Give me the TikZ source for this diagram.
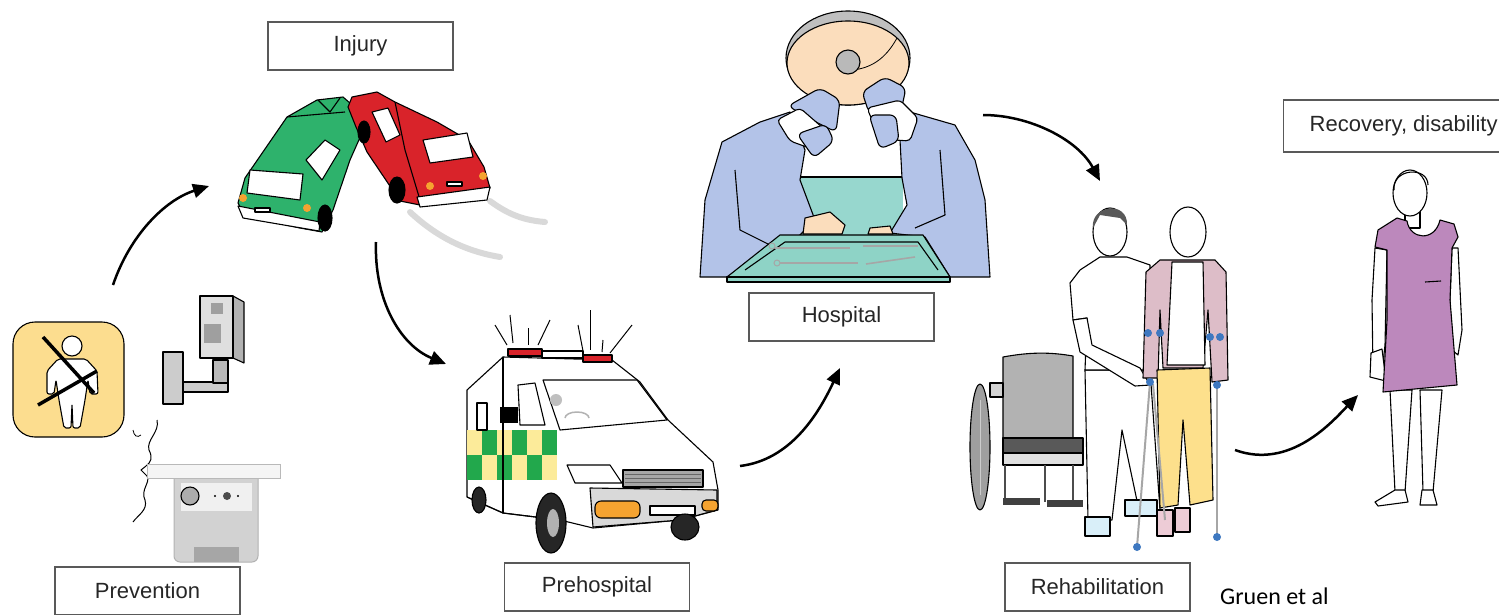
\documentclass[tikz,border=0pt]{standalone}
\usepackage{fontspec}
\setmainfont{Liberation Sans}
\newfontfamily\calibri{Carlito}
\usetikzlibrary{positioning, arrows.meta}
\definecolor{signyellow}{HTML}{FCDD8F}
\definecolor{carGreen}{HTML}{2EB26C}
\definecolor{carRed}{HTML}{D9232A}
\definecolor{lampOrange}{HTML}{F5A330}
\definecolor{ambGreen}{HTML}{22A84C}
\definecolor{ambYellow}{HTML}{FCEB9A}
\definecolor{peach}{HTML}{FBDDBC}
\definecolor{gown}{HTML}{B3C3E8}
\definecolor{drape}{HTML}{97D7CE}
\definecolor{trayGreen}{HTML}{8ED3C6}
\definecolor{cardigan}{HTML}{DDBDC8}
\definecolor{trousers}{HTML}{FDE08C}
\definecolor{shoePink}{HTML}{EDCCD6}
\definecolor{shoeBlue}{HTML}{D9EFF9}
\definecolor{crutchBlue}{HTML}{3E78C0}
\definecolor{dress}{HTML}{BC88BC}

\begin{document}
\begin{tikzpicture}[x=1pt, y=-1pt,
  stagebox/.style={draw=black!65, line width=1.3pt, minimum width=185pt, minimum height=48pt, inner sep=0pt, text=black!85, font=\fontsize{22}{26}\selectfont},
  flow/.style={line width=2.5pt, -{Triangle[length=16pt,width=14pt]}},
  ink/.style={draw=black, line width=1.1pt, line join=round},
  skid/.style={line width=6pt, gray!30, line cap=round}]

\useasboundingbox (0,0) rectangle (1499,614);
\clip (0,0) rectangle (1499,614);

% Prevention: seat belt sign
\draw[ink, fill=signyellow, rounded corners=22pt] (13,322) rectangle (124,437);
\draw[ink, fill=white] (72,346) circle (10);
\draw[ink, fill=white, rounded corners=2pt] (58,359) -- (86,359) -- (97,371) -- (98,394) -- (90,394) -- (88,380) -- (85,400) -- (80,428) -- (73,428) -- (72,404) -- (71,428) -- (64,428) -- (59,400) -- (56,380) -- (54,394) -- (47,394) -- (47,371) -- cycle;
\draw[line width=3.5pt] (43,337) -- (94,393);
\draw[line width=3.5pt] (38,405) -- (97,371);

% speed camera
\draw[ink, fill=gray!40] (163,352) rectangle (183,404);
\draw[ink, fill=gray!40] (183,382) rectangle (228,392);
\draw[ink, fill=gray!55] (213,360) rectangle (228,383);
\draw[ink, fill=gray!60] (233,296) -- (244,302) -- (244,363) -- (233,358) -- cycle;
\draw[ink, fill=gray!25] (200,296) rectangle (233,358);
\fill[gray!75] (211,303) rectangle (223,314);
\fill[gray!75] (204,324) rectangle (221,343);

% breath tester
\draw[line width=1pt] (157,420) .. controls (160,432) and (146,440) .. (149,450) .. controls (153,458) and (151,462) .. (146,466) -- (141,470) -- (147,476) .. controls (151,482) and (140,490) .. (145,500) .. controls (148,510) and (138,515) .. (133,522);
\draw[line width=0.8pt] (133,430) .. controls (134,436) and (137,438) .. (141,435);
\draw[gray!60, fill=gray!35, line width=1pt, rounded corners=6pt] (174,468) -- (174,562) -- (258,562) -- (258,468) -- cycle;
\draw[gray!55, fill=gray!8, line width=1pt] (147,464) rectangle (280,478);
\fill[gray!12] (181,483) rectangle (252,511);
\draw[ink, fill=gray!65] (190,496) circle (9);
\fill[black!70] (227,496) circle (4);
\fill (215,496) circle (1.2);
\fill (238,496) circle (1.2);
\fill[gray!70] (194,547) rectangle (239,562);

% Injury: two cars
\draw[skid] (410,212) .. controls (440,240) and (470,252) .. (500,257);
\draw[skid] (490,201) .. controls (505,212) and (520,220) .. (545,222);
\draw[ink, fill=carGreen] (238,203) -- (245,178) -- (287,117) -- (317,100) -- (343,97) -- (358,110) -- (362,133) -- (350,160) -- (333,210) -- (322,232) -- (300,228) -- (245,216) -- cycle;
\draw[ink, fill=white] (250,170) -- (303,174) -- (300,200) -- (247,193) -- cycle;
\draw[ink, fill=white] (306,160) -- (325,140) -- (340,150) -- (322,180) -- cycle;
\draw[ink, fill=white] (238,206) -- (320,222) -- (319,231) -- (243,218) -- cycle;
\draw[ink] (287,117) -- (345,112);
\draw[ink] (318,100) -- (330,112) -- (340,98);
\fill[lampOrange] (243,198) circle (4);
\fill[lampOrange] (307,208) circle (4);
\draw[ink, fill=white] (255,208) rectangle (270,212);
\draw[ink, fill=black] (325,218) ellipse (7 and 13);
\draw[ink, fill=carRed] (348,107) -- (352,97) -- (377,92) -- (395,102) -- (437,122) -- (468,140) -- (484,167) -- (490,188) -- (480,198) -- (420,205) -- (400,201) -- (367,152) -- (356,127) -- cycle;
\draw[ink, fill=white] (423,140) -- (467,133) -- (473,157) -- (430,163) -- cycle;
\draw[ink, fill=white] (372,112) -- (388,108) -- (400,135) -- (386,142) -- cycle;
\draw[ink] (395,102) -- (405,150) -- (420,200);
\draw[ink, fill=white] (417,197) -- (490,187) -- (487,200) -- (420,207) -- cycle;
\fill[lampOrange] (430,186) circle (4);
\fill[lampOrange] (483,176) circle (4);
\draw[ink, fill=white] (447,182) rectangle (462,186);
\draw[ink, fill=black] (397,190) ellipse (8 and 13);
\draw[ink, fill=black] (364,132) ellipse (6 and 11);

% Prehospital: ambulance
\draw[ink, fill=white] (503,357) -- (612,360) -- (640,382) -- (668,420) -- (713,462) -- (718,490) -- (718,510) -- (680,520) -- (593,528) -- (560,520) -- (503,513) -- cycle;
\draw[ink, fill=white] (467,390) -- (503,357) -- (503,513) -- (467,497) -- cycle;
\foreach \i in {0,...,5}{
  \foreach \j in {0,1}{
    \pgfmathtruncatemacro\odd{mod(\i+\j,2)}
    \ifnum\odd=0 \def\cc{ambYellow}\else\def\cc{ambGreen}\fi
    \fill[\cc] ({467+15*\i},{430+25*\j}) rectangle ++(15,25);
  }
}
\draw[ink] (467,497) -- (503,513) -- (560,520);
\draw[ink] (503,357) -- (503,513);
\draw[ink, fill=white] (543,380) -- (637,380) -- (667,420) -- (560,430) -- cycle;
\fill[gray!50] (556,400) circle (6);
\draw[gray!60, line width=1.5pt] (565,418) arc[start angle=180, end angle=360, x radius=12, y radius=6];
\draw[ink, fill=white] (518,385) -- (535,383) -- (545,425) -- (520,425) -- cycle;
\draw[ink, fill=white] (477,403) rectangle (487,430);
\fill[black] (500,407) rectangle (518,423);
\draw[ink, fill=white] (567,465) -- (610,465) -- (622,483) -- (575,483) -- cycle;
\draw[ink, fill=gray!70] (623,470) rectangle (703,487);
\foreach \k in {474,478,482}{
  \draw[black!60, line width=0.8pt] (625,\k) -- (701,\k);
}
\draw[ink, fill=gray!30] (590,488) -- (717,490) -- (717,510) -- (680,520) -- (593,527) -- cycle;
\draw[ink, fill=lampOrange, rounded corners=6pt] (595,501) rectangle (640,518);
\draw[ink, fill=lampOrange, rounded corners=4pt] (702,500) rectangle (718,511);
\draw[ink, fill=white] (650,506) rectangle (695,515);
\draw[ink, fill=black!85] (479,500) ellipse (7 and 13);
\draw[ink, fill=black!85] (685,527) ellipse (14 and 13);
\draw[ink, fill=black!85] (551,523) ellipse (15 and 30);
\fill[gray!60] (553,523) ellipse (6 and 14);
\draw[ink, fill=carRed] (508,349) rectangle (542,356);
\draw[ink, fill=white] (542,351) rectangle (583,358);
\draw[ink, fill=carRed] (583,355) rectangle (612,362);
\foreach \ax/\ay/\bx/\by in {507/345/495/325, 513/343/510/315, 528/345/528/328, 538/345/550/320, 583/351/578/325, 590/350/590/310, 602/352/603/340, 610/353/632/325}{
  \draw[line width=1pt] (\ax,\ay) -- (\bx,\by);
}

% Hospital: surgeons at the table
\draw[ink, fill=gray!50] (848,58) ellipse (62 and 47);
\draw[ink, fill=peach] (848,63) ellipse (61 and 42);
\draw[line width=0.8pt] (897,38) .. controls (885,60) and (870,68) .. (853,70);
\draw[ink, fill=gray!55] (848,62) circle (12);
\fill[drape] (797,177) rectangle (903,235);
\draw[ink] (797,177) -- (903,177);
\draw[ink, fill=gown] (700,277) -- (705,200) -- (722,142) -- (760,122) -- (790,112) -- (805,150) -- (800,180) -- (815,220) -- (800,235) -- (760,255) -- (727,277) -- cycle;
\draw[ink] (735,170) -- (740,230) -- (780,250);
\draw[ink, fill=gown] (900,140) -- (910,112) -- (955,125) -- (975,160) -- (985,200) -- (990,277) -- (950,277) -- (925,237) -- (890,233) -- (907,205) -- (902,178) -- cycle;
\draw[ink] (940,150) -- (945,215) -- (915,228);
\draw[ink, fill=gown, rounded corners=6pt] (788,106) -- (820,88) -- (840,100) -- (836,132) -- (812,120) -- cycle;
\draw[ink, fill=white, rounded corners=4pt] (777,120) -- (800,108) -- (823,128) -- (815,150) -- (790,141) -- cycle;
\draw[ink, fill=gown, rounded corners=6pt] (797,134) -- (826,124) -- (834,141) -- (814,158) -- cycle;
\draw[ink, fill=gown, rounded corners=6pt] (862,92) -- (885,77) -- (906,88) -- (901,111) -- (869,113) -- cycle;
\draw[ink, fill=white, rounded corners=4pt] (867,108) -- (900,100) -- (918,118) -- (910,141) -- (880,139) -- cycle;
\draw[ink, fill=gown, rounded corners=6pt] (869,115) -- (896,115) -- (899,141) -- (880,149) -- cycle;
\draw[ink, fill=peach] (805,218) -- (830,212) -- (845,225) -- (842,234) -- (803,234) -- cycle;
\draw[ink, fill=peach] (870,228) -- (890,226) -- (893,234) -- (868,234) -- cycle;
\draw[ink, fill=trayGreen] (727,277) -- (780,235) -- (923,235) -- (950,277) -- cycle;
\draw[ink, fill=trayGreen] (727,277) rectangle (950,282);
\draw[ink] (745,270) -- (785,242) -- (918,242) -- (938,270);
\foreach \ax/\ay/\bx/\by in {775/248/850/248, 863/246/918/246, 780/263/858/263, 866/264/915/257}{
  \draw[gray!70, line width=1.6pt] (\ax,\ay) -- (\bx,\by);
}
\draw[gray!70, line width=1pt] (772,246) circle (3);
\draw[gray!70, line width=1pt] (777,263) circle (3);

% Rehabilitation: wheelchair and two figures
\draw[ink, fill=gray!75] (980,447) ellipse (10 and 63);
\draw[gray!40, line width=1pt] (980,400) -- (980,495);
\draw[ink, fill=gray!60] (1003,440) -- (1003,357) .. controls (1030,352) and (1050,352) .. (1073,356) -- (1073,440) -- cycle;
\draw[ink, fill=gray!35] (990,383) rectangle (1003,397);
\draw[ink, fill=black!65] (1003,438) rectangle (1083,453);
\draw[ink, fill=gray!25] (1003,453) rectangle (1083,465);
\foreach \lx in {1005,1045,1073}{
  \draw[line width=2pt, black!70] (\lx,465) -- (\lx,502);
}
\fill[black!75] (1003,498) rectangle (1040,505);
\fill[black!75] (1047,500) rectangle (1083,507);
\draw[ink, fill=white] (1085,370) -- (1150,370) -- (1160,510) -- (1140,515) -- (1122,430) -- (1112,520) -- (1088,520) -- cycle;
\draw[ink, fill=shoeBlue] (1085,517) rectangle (1110,536);
\draw[ink, fill=shoeBlue] (1125,500) rectangle (1157,516);
\draw[ink, fill=white] (1100,257) -- (1127,257) -- (1150,265) -- (1150,370) -- (1085,370) -- (1087,318) -- (1073,320) -- (1070,283) -- (1080,270) -- cycle;
\draw[ink, fill=white] (1073,320) -- (1087,318) -- (1092,345) -- (1140,368) -- (1150,385) -- (1135,386) -- (1080,352) -- cycle;
\draw[ink, fill=white] (1110,232) ellipse (17 and 24);
\fill[black!65] (1093,228) .. controls (1090,205) and (1128,200) .. (1127,225) -- (1120,218) -- (1100,215) -- cycle;
\draw[ink, fill=cardigan] (1160,260) -- (1215,260) -- (1226,272) -- (1228,380) -- (1212,382) -- (1208,310) -- (1203,368) -- (1163,368) -- (1160,310) -- (1158,378) -- (1143,378) -- (1146,272) -- cycle;
\draw[ink, fill=white] (1172,262) -- (1203,262) -- (1205,365) -- (1167,365) -- cycle;
\draw[ink, fill=trousers] (1157,370) -- (1210,368) -- (1213,500) -- (1190,505) -- (1183,420) -- (1178,505) -- (1160,508) -- cycle;
\draw[ink, fill=shoePink] (1157,510) rectangle (1173,536);
\draw[ink, fill=shoePink] (1175,508) rectangle (1190,532);
\draw[ink, fill=white] (1188,232) ellipse (18 and 25);
\draw[gray!70, line width=2pt] (1150,382) -- (1137,547);
\draw[gray!70, line width=2pt] (1153,384) -- (1165,520);
\draw[gray!70, line width=2pt] (1217,383) -- (1217,537);
\foreach \bx/\by in {1148/333, 1160/333, 1210/337, 1220/337, 1150/382, 1217/385, 1137/547, 1217/537}{
  \fill[crutchBlue] (\bx,\by) circle (4);
}

% Recovery: woman standing
\draw[ink, fill=white] (1375,248) -- (1387,250) -- (1385,345) -- (1382,372) -- (1373,372) -- (1372,300) -- cycle;
\draw[ink, fill=white] (1452,248) -- (1458,248) -- (1462,330) -- (1458,355) -- (1452,350) -- (1450,300) -- cycle;
\draw[ink, fill=white] (1371,353) -- (1382,349) -- (1386,381) -- (1370,377) -- cycle;
\draw[ink, fill=white] (1390,390) -- (1412,390) -- (1405,492) -- (1395,492) -- cycle;
\draw[ink, fill=white] (1420,390) -- (1442,390) -- (1433,492) -- (1423,492) -- cycle;
\draw[ink, fill=white] (1395,490) -- (1405,490) -- (1408,502) -- (1378,506) -- (1375,502) -- cycle;
\draw[ink, fill=white] (1422,490) -- (1433,490) -- (1437,505) -- (1420,505) -- cycle;
\draw[ink, fill=white] (1405,210) rectangle (1420,228);
\draw[ink, fill=dress] (1375,247) -- (1378,230) -- (1397,218) -- (1407,221) .. controls (1410,240) and (1435,242) .. (1440,220) -- (1454,224) -- (1458,237) -- (1452,248) -- (1450,300) -- (1457,385) -- (1383,392) -- (1387,320) -- (1387,250) -- cycle;
\draw[ink] (1425,282) -- (1441,281);
\draw[ink, fill=white] (1410,193) ellipse (17 and 23);
\draw[ink] (1394,190) .. controls (1392,168) and (1428,166) .. (1428,185);

% stage labels
\node[stagebox] (injury) at (360.5,46) {Injury};
\node[stagebox] (hospital) at (841.5,317) {Hospital};
\node[stagebox] (prevention) at (147.5,591) {Prevention};
\node[stagebox] (prehospital) at (597,587) {Prehospital};
\node[stagebox] (rehab) at (1097.5,587) {Rehabilitation};
\node[stagebox, minimum width=240pt, minimum height=52pt, anchor=west] (recovery) at (1283,126) {Recovery, disability};
\node[font=\calibri\fontsize{24}{28}\selectfont, anchor=base west, inner sep=0pt] (source) at (1220,604) {Gruen et al};

% arrows between stages
\coordinate (prevOut) at (113,285);
\coordinate (injIn) at (209,186);
\coordinate (injOut) at (376,242);
\coordinate (preIn) at (446,364);
\coordinate (preOut) at (740,466);
\coordinate (hospIn) at (840,368);
\coordinate (hospOut) at (983,115);
\coordinate (rehIn) at (1100,181);
\coordinate (rehOut) at (1235,450);
\coordinate (recIn) at (1358,395);
\draw[flow] (prevOut) .. controls (130,235) and (165,200) .. (injIn);
\draw[flow] (injOut) .. controls (374,300) and (400,345) .. (preIn);
\draw[flow] (preOut) .. controls (790,460) and (818,415) .. (hospIn);
\draw[flow] (hospOut) .. controls (1030,115) and (1078,140) .. (rehIn);
\draw[flow] (rehOut) .. controls (1290,470) and (1332,422) .. (recIn);
\end{tikzpicture}
\end{document}
